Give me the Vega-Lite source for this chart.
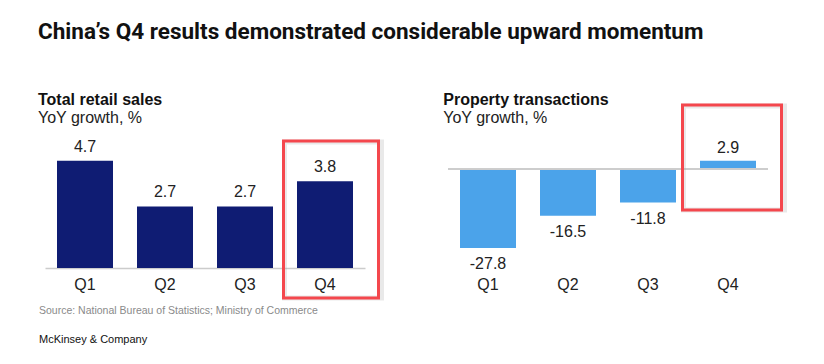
{
  "$schema": "https://vega.github.io/schema/vega-lite/v6.json",
  "background": "white",
  "padding": {"left": 38, "top": 20, "right": 5, "bottom": 5},
  "title": {
    "text": "China’s Q4 results demonstrated considerable upward momentum",
    "anchor": "start",
    "font": "Roboto",
    "fontSize": 22.5,
    "fontWeight": "bold",
    "color": "#111111",
    "offset": 49
  },
  "config": {
    "view": {"stroke": null},
    "font": "Liberation Sans",
    "title": {"anchor": "start", "font": "Liberation Sans", "fontSize": 16, "fontWeight": "bold", "color": "#111111", "subtitleFont": "Liberation Sans", "subtitleFontSize": 16, "subtitleColor": "#222222", "subtitlePadding": 2, "offset": -26}
  },
  "spacing": 5,
  "vconcat": [
    {
      "spacing": 59,
      "hconcat": [
        {
          "width": 320,
          "height": 168,
          "title": {"text": "Total retail sales", "subtitle": "YoY growth, %", "dx": -7},
          "data": {"values": [
            {"q": "Q1", "v": 4.7, "lab": "4.7", "hl": false},
            {"q": "Q2", "v": 2.7, "lab": "2.7", "hl": false},
            {"q": "Q3", "v": 2.7, "lab": "2.7", "hl": false},
            {"q": "Q4", "v": 3.8, "lab": "3.8", "hl": true}
          ]},
          "encoding": {
            "x": {"field": "q", "type": "nominal", "sort": null,
                  "scale": {"paddingInner": 0.3, "paddingOuter": 0.15},
                  "axis": {"title": null, "labelAngle": 0, "ticks": false, "domainColor": "#cccccc", "domainWidth": 1.5, "labelFontSize": 16, "labelColor": "#222222", "labelPadding": 8, "labelFont": "Liberation Sans"}}
          },
          "layer": [
            {
              "mark": {"type": "bar", "color": "#0f1c73"},
              "encoding": {
                "y": {"field": "v", "type": "quantitative", "scale": {"domain": [0, 7.368], "nice": false, "zero": false}, "axis": null}
              }
            },
            {
              "mark": {"type": "text", "baseline": "bottom", "dy": -6, "fontSize": 16, "color": "#222222", "font": "Liberation Sans"},
              "encoding": {
                "y": {"field": "v", "type": "quantitative"},
                "text": {"field": "lab", "type": "nominal"}
              }
            },
            {
              "transform": [{"filter": "datum.hl"}],
              "mark": {"type": "rect", "fill": null, "stroke": "#999999", "strokeOpacity": 0.22, "strokeWidth": 5, "width": 97, "xOffset": 8, "yOffset": 1, "clip": false},
              "encoding": {"y": {"datum": 5.57}, "y2": {"datum": -1.32}}
            },
            {
              "transform": [{"filter": "datum.hl"}],
              "mark": {"type": "rect", "fill": null, "stroke": "#f4474d", "strokeWidth": 3, "width": 95, "xOffset": 6, "clip": false},
              "encoding": {"y": {"datum": 5.57}, "y2": {"datum": -1.32}}
            }
          ]
        },
        {
          "width": 320,
          "height": 168,
          "title": {"text": "Property transactions", "subtitle": "YoY growth, %", "dx": -4},
          "data": {"values": [
            {"q": "Q1", "v": -27.8, "lab": "-27.8", "hl": false},
            {"q": "Q2", "v": -16.5, "lab": "-16.5", "hl": false},
            {"q": "Q3", "v": -11.8, "lab": "-11.8", "hl": false},
            {"q": "Q4", "v": 2.9, "lab": "2.9", "hl": true}
          ]},
          "encoding": {
            "x": {"field": "q", "type": "nominal", "sort": null,
                  "scale": {"paddingInner": 0.3, "paddingOuter": 0.15},
                  "axis": {"title": null, "labelAngle": 0, "ticks": false, "domain": false, "labelFontSize": 16, "labelColor": "#222222", "labelPadding": 8, "labelFont": "Liberation Sans"}}
          },
          "layer": [
            {
              "mark": {"type": "bar", "color": "#4ba3ea"},
              "encoding": {
                "y": {"field": "v", "type": "quantitative", "scale": {"domain": [-34.86, 24.3], "nice": false, "zero": false}, "axis": null},
                "y2": {"datum": 0}
              }
            },
            {
              "mark": {"type": "rule", "color": "#cccccc", "strokeWidth": 1.5},
              "encoding": {"y": {"datum": 0}, "x": {"value": 0}, "x2": {"value": 320}}
            },
            {
              "transform": [{"filter": "datum.v < 0"}],
              "mark": {"type": "text", "baseline": "top", "dy": 8, "fontSize": 16, "color": "#222222", "font": "Liberation Sans"},
              "encoding": {
                "y": {"field": "v", "type": "quantitative"},
                "text": {"field": "lab", "type": "nominal"}
              }
            },
            {
              "transform": [{"filter": "datum.v >= 0"}],
              "mark": {"type": "text", "baseline": "bottom", "dy": -5, "fontSize": 16, "color": "#222222", "font": "Liberation Sans"},
              "encoding": {
                "y": {"field": "v", "type": "quantitative"},
                "text": {"field": "lab", "type": "nominal"}
              }
            },
            {
              "transform": [{"filter": "datum.hl"}],
              "mark": {"type": "rect", "fill": null, "stroke": "#999999", "strokeOpacity": 0.22, "strokeWidth": 5, "width": 101, "xOffset": 6, "yOffset": 1, "clip": false},
              "encoding": {"y": {"datum": 22.5}, "y2": {"datum": -14.4}}
            },
            {
              "transform": [{"filter": "datum.hl"}],
              "mark": {"type": "rect", "fill": null, "stroke": "#f4474d", "strokeWidth": 3, "width": 99, "xOffset": 4, "clip": false},
              "encoding": {"y": {"datum": 22.5}, "y2": {"datum": -14.4}}
            }
          ]
        }
      ]
    },
    {
      "width": 320,
      "height": 1,
      "title": {"text": "Source: National Bureau of Statistics; Ministry of Commerce", "subtitle": "McKinsey & Company", "fontSize": 10.5, "fontWeight": "normal", "color": "#8a8a8a", "subtitleFontSize": 11, "subtitleColor": "#111111", "subtitlePadding": 17, "offset": 0, "dx": -6},
      "data": {"values": [{"t": ""}]},
      "mark": {"type": "text"},
      "encoding": {"text": {"field": "t", "type": "nominal"}}
    }
  ]
}
